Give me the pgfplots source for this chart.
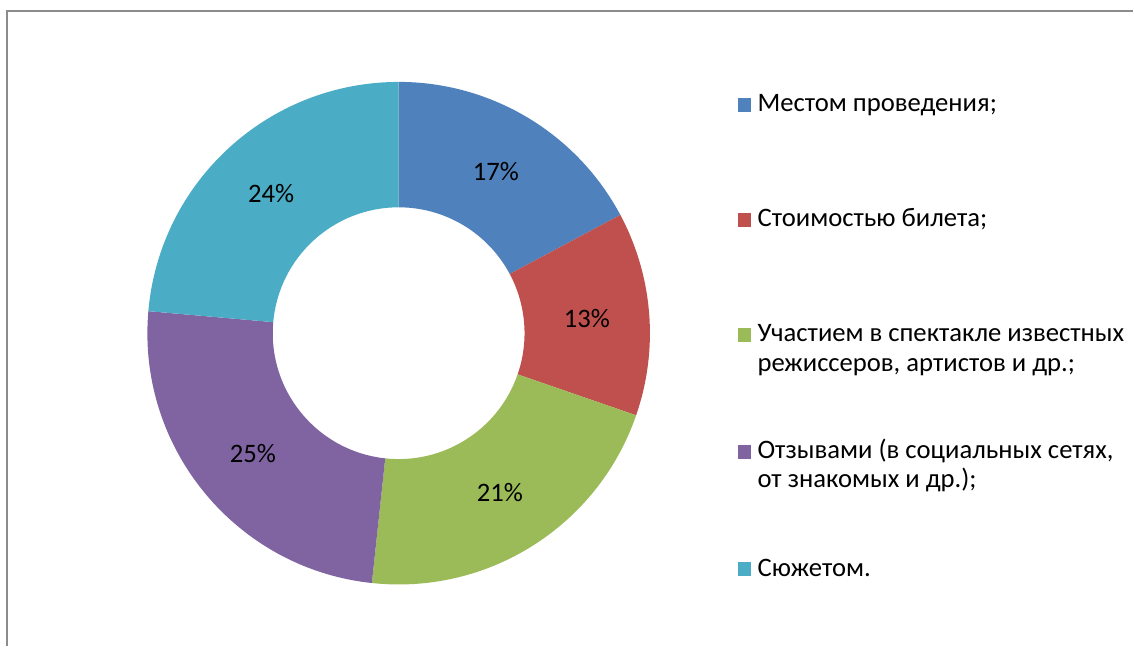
\documentclass[border=0pt]{standalone}
\usepackage{pgfplots}
\pgfplotsset{compat=1.18}
\usepackage{pgfplotstable}
\usepackage{fontspec}
\setmainfont{Carlito}

\definecolor{c1}{HTML}{4F81BD}
\definecolor{c2}{HTML}{C0504D}
\definecolor{c3}{HTML}{9BBB59}
\definecolor{c4}{HTML}{8064A2}
\definecolor{c5}{HTML}{4BACC6}
\definecolor{frame}{HTML}{8C8C8C}

% shares in percent, clockwise from 12 o'clock
\pgfplotstableread{
val col
17.2 c1
13.1 c2
21.4 c3
24.7 c4
23.6 c5
}\shares

\begin{document}
\begin{tikzpicture}[font=\fontsize{20}{24}\selectfont]
\begin{axis}[
    hide axis,
    x=0.75pt, y=0.75pt,
    xmin=0, xmax=1134, ymin=0, ymax=647,
    clip=false,
]
% full canvas, so the page has the reference's size
\path (axis cs:0,0) rectangle (axis cs:1134,647);
% frame (left and top edges only)
\draw[frame, line width=1.5pt] (axis cs:7,0) -- (axis cs:7,636) -- (axis cs:1134,636);

\def\acc{90}
\pgfplotsforeachungrouped \i in {0,...,4}{%
  \pgfplotstablegetelem{\i}{val}\of\shares \let\myval=\pgfplotsretval
  \pgfplotstablegetelem{\i}{col}\of\shares \let\mycol=\pgfplotsretval
  \pgfmathsetmacro\sa{\acc}
  \pgfmathsetmacro\sb{\acc-3.6*\myval}
  \pgfmathsetmacro\sm{(\sa+\sb)/2}
  \pgfmathsetmacro\xo{399+251.5*cos(\sa)}
  \pgfmathsetmacro\yo{313.5+251.5*sin(\sa)}
  \pgfmathsetmacro\xi{399+126*cos(\sb)}
  \pgfmathsetmacro\yi{313.5+126*sin(\sb)}
  \pgfmathsetmacro\xm{399+189*cos(\sm)}
  \pgfmathsetmacro\ym{313.5+189*sin(\sm)}
  \pgfmathtruncatemacro\pct{round(\myval)}
  \edef\temp{%
    \noexpand\fill[\mycol] (axis cs:\xo,\yo)
      arc[start angle=\sa, end angle=\sb, radius=188.6pt]
      -- (axis cs:\xi,\yi)
      arc[start angle=\sb, end angle=\sa, radius=94.5pt] -- cycle;
    \noexpand\node[text=black] at (axis cs:\xm,\ym) {\pct\noexpand\%};
  }%
  \temp
  \xdef\acc{\sb}
}

% legend
\fill[c1] (axis cs:739,535) rectangle (axis cs:752,549);
\fill[c2] (axis cs:739,420) rectangle (axis cs:752,434);
\fill[c3] (axis cs:739,305) rectangle (axis cs:752,319);
\fill[c4] (axis cs:739,188) rectangle (axis cs:752,202);
\fill[c5] (axis cs:739,70) rectangle (axis cs:752,84);
\node[anchor=base west, inner sep=0pt] at (axis cs:758,535) {Местом проведения;};
\node[anchor=base west, inner sep=0pt] at (axis cs:758,420) {Стоимостью билета;};
\node[anchor=base west, inner sep=0pt] at (axis cs:758,305) {Участием в спектакле известных};
\node[anchor=base west, inner sep=0pt] at (axis cs:758,275) {режиссеров, артистов и др.;};
\node[anchor=base west, inner sep=0pt] at (axis cs:758,188) {Отзывами (в социальных сетях,};
\node[anchor=base west, inner sep=0pt] at (axis cs:758,159) {от знакомых и др.);};
\node[anchor=base west, inner sep=0pt] at (axis cs:758,70) {Сюжетом.};
\end{axis}
\end{tikzpicture}
\end{document}
